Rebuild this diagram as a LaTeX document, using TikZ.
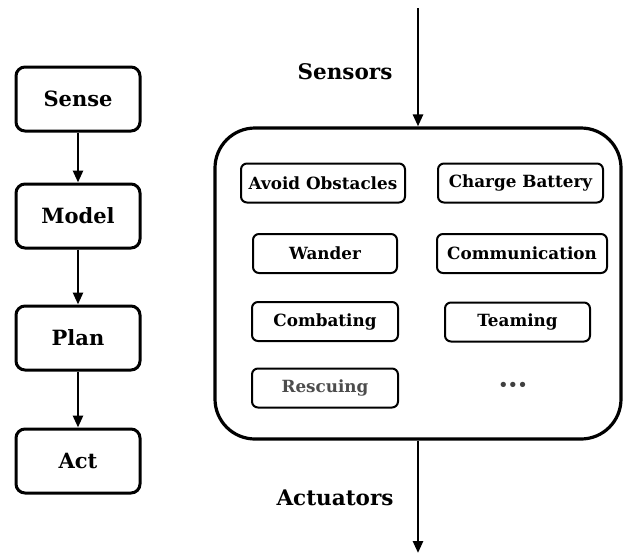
\documentclass[tikz,border=0pt]{standalone}
\usepackage{fontspec}
\setmainfont{DejaVu Serif}
\usetikzlibrary{arrows.meta}
\begin{document}
\begin{tikzpicture}[x=1pt,y=-1pt,
  stage/.style={draw,line width=3pt,rounded corners=9pt,minimum width=124pt,minimum height=64pt,inner sep=0pt,font=\bfseries\fontsize{21}{24}\selectfont},
  behav/.style={draw,line width=2pt,rounded corners=6pt,minimum height=39pt,inner sep=0pt,font=\bfseries\fontsize{16.8}{20}\selectfont},
  flow/.style={line width=2.6pt,-{Triangle[length=12pt,width=10pt]}},
  lbl/.style={font=\bfseries\fontsize{21.5}{25}\selectfont}]
\useasboundingbox (0,0) rectangle (623,558);
% left pipeline
\node[stage] (sense) at (78,99) {Sense};
\node[stage] (model) at (78,216) {Model};
\node[stage] (plan) at (78,338) {Plan};
\node[stage] (act) at (78,461) {Act};
\draw[flow] (sense) -- (model);
\draw[flow] (model) -- (plan);
\draw[flow] (plan) -- (act);
% behaviour container
\node[draw,line width=3.2pt,rounded corners=40pt,minimum width=406pt,minimum height=311pt,inner sep=0pt] (core) at (418,283.5) {};
\coordinate (in) at (418,8);
\coordinate (out) at (418,553);
\draw[flow] (in) -- (core.north);
\draw[flow] (core.south) -- (out);
\node[lbl] (sensors) at (345,72) {Sensors};
\node[lbl] (actuators) at (335,498) {Actuators};
% behaviours
\node[behav,minimum width=164pt] (avoid) at (323,183) {Avoid Obstacles};
\node[behav,minimum width=165pt] (charge) at (520.5,183) {Charge Battery};
\node[behav,minimum width=144pt] (wander) at (325,253.5) {Wander};
\node[behav,minimum width=170pt] (comm) at (522,253.5) {Communication};
\node[behav,minimum width=146pt] (combat) at (325,321.5) {Combating};
\node[behav,minimum width=145pt] (team) at (517.5,322) {Teaming};
\node[behav,minimum width=146pt,text=black!70] (rescue) at (325,388) {Rescuing};
\node[font=\bfseries\fontsize{15}{18}\selectfont,text=black!75] (more) at (513,386) {•••};
\end{tikzpicture}
\end{document}
